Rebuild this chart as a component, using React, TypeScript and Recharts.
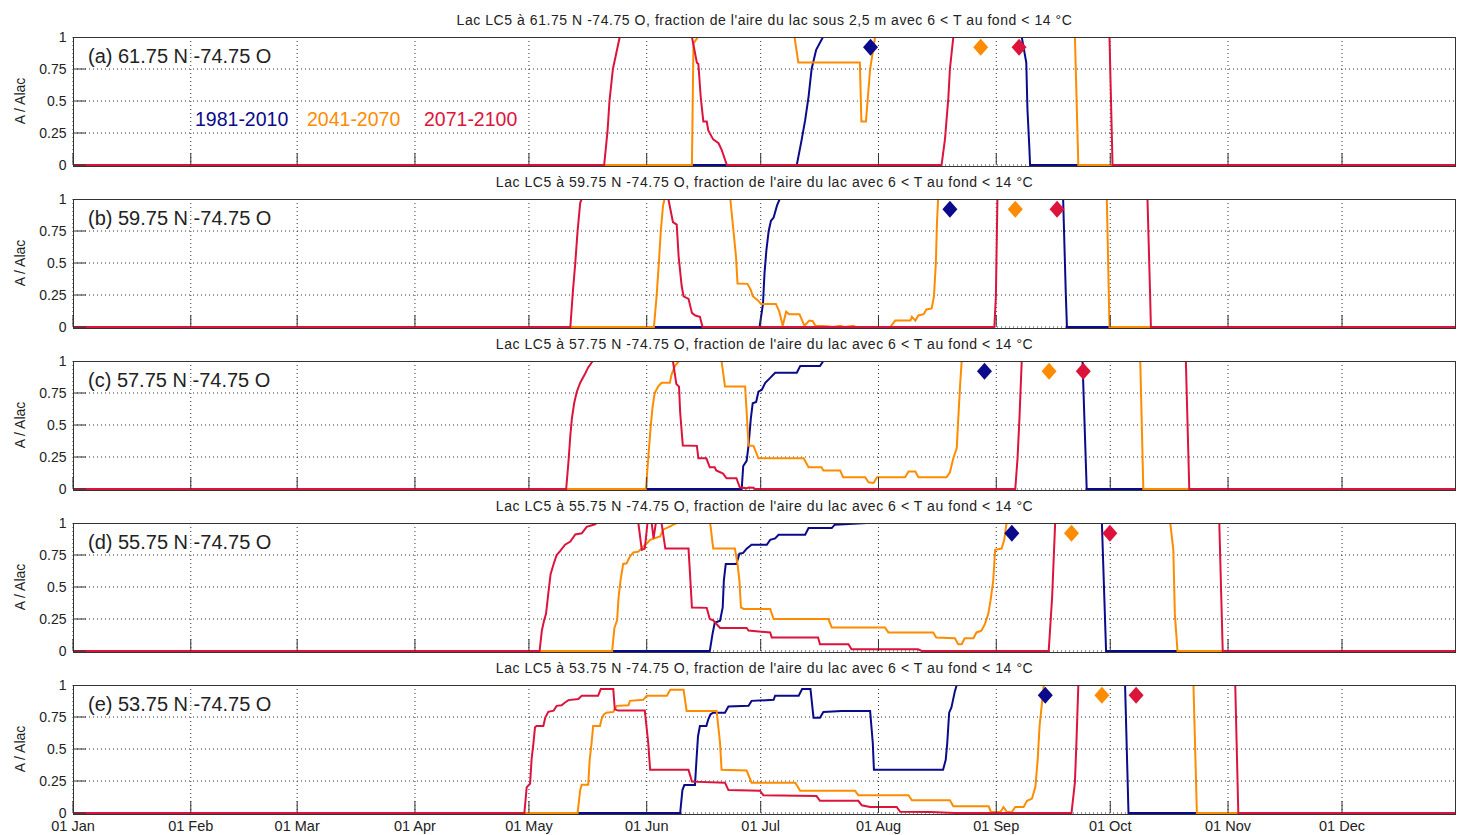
import React from 'react';
import { ComposedChart, Line, Scatter, XAxis, YAxis, CartesianGrid } from 'recharts';

type P = [number, number];

// ---------- axes ----------
const monthTicks = [1, 32, 60, 91, 121, 152, 182, 213, 244, 274, 305, 335];
const monthLabels = ['01 Jan', '01 Feb', '01 Mar', '01 Apr', '01 May', '01 Jun', '01 Jul', '01 Aug', '01 Sep', '01 Oct', '01 Nov', '01 Dec'];
const valueTicks = [0, 0.25, 0.5, 0.75, 1];

// ---------- series ----------
const seriesNames = ['1981-2010', '2041-2070', '2071-2100'];
const seriesColors = ['#0a0a8a', '#ff8c00', '#dc143c'];
const markerLevel = 0.92;

const panelLabels = [
  '(a) 61.75 N -74.75 O',
  '(b) 59.75 N -74.75 O',
  '(c) 57.75 N -74.75 O',
  '(d) 55.75 N -74.75 O',
  '(e) 53.75 N -74.75 O',
];
const panelTitles = [
  "Lac LC5 à 61.75 N -74.75 O, fraction de l'aire du lac sous 2,5 m avec 6 < T au fond < 14 °C",
  "Lac LC5 à 59.75 N -74.75 O, fraction de l'aire du lac avec 6 < T au fond < 14 °C",
  "Lac LC5 à 57.75 N -74.75 O, fraction de l'aire du lac avec 6 < T au fond < 14 °C",
  "Lac LC5 à 55.75 N -74.75 O, fraction de l'aire du lac avec 6 < T au fond < 14 °C",
  "Lac LC5 à 53.75 N -74.75 O, fraction de l'aire du lac avec 6 < T au fond < 14 °C",
];

// Panel (a)
const blueA: P[] = [[1,0],[191.5,0],[192.8,0.2],[193.7,0.35],[194.6,0.535],[195.4,0.75],[196.6,0.9],[198.4,1],[250.7,1],[251.9,0.8],[252.2,0.44],[252.7,0.14],[252.9,0],[365,0]];
const orangeA: P[] = [[1,0],[163.9,0],[164.3,0.95],[165.5,1],[190.9,1],[191.9,0.8],[208.1,0.8],[208.5,0.34],[209.7,0.34],[210.8,0.75],[212.1,1],[264.7,1],[265.6,0],[365,0]];
const redA: P[] = [[1,0],[140.8,0],[141.7,0.27],[142.2,0.5],[143.1,0.75],[144.9,1],[163.9,1],[165.2,0.8],[165.6,0.79],[166.2,0.535],[166.9,0.34],[167.8,0.34],[168.2,0.27],[169.5,0.2],[170.9,0.17],[171.7,0.12],[173.1,0],[229.6,0],[230.5,0.2],[231.4,0.53],[231.8,0.75],[232.7,1],[273.8,1],[274.6,0],[365,0]];
const markersA = [210.9, 239.9, 250.0];

// Panel (b)
const blueB: P[] = [[1,0],[181.7,0],[182.6,0.18],[183.0,0.42],[183.5,0.6],[184.1,0.75],[184.7,0.83],[185.4,0.855],[186.3,0.95],[187.0,1],[261.6,1],[262.3,0.26],[262.6,0],[365,0]];
const orangeB: P[] = [[1,0],[153.9,0],[154.6,0.24],[155.2,0.5],[155.7,0.75],[156.3,0.95],[156.7,1],[174.0,1],[174.6,0.82],[175.5,0.55],[175.9,0.34],[178.5,0.337],[179.4,0.29],[179.9,0.24],[181.2,0.21],[182.1,0.18],[186.0,0.18],[186.9,0.12],[187.8,0.01],[188.7,0.12],[189.5,0.1],[192.2,0.1],[193.5,0.01],[194.8,0.05],[195.7,0.045],[196.4,0.01],[199.5,0.005],[201,0],[203,0.01],[204,0],[206.5,0.01],[207,0],[216.1,0],[217.4,0.05],[221.4,0.05],[221.8,0.08],[222.7,0.05],[223.5,0.09],[224.9,0.1],[225.6,0.137],[227.0,0.145],[227.6,0.24],[228.1,0.5],[228.4,0.82],[228.7,1],[273.1,1],[273.8,0],[365,0]];
const redB: P[] = [[1,0],[131.9,0],[132.6,0.29],[133.2,0.5],[133.8,0.75],[134.5,0.97],[134.9,1],[157.7,1],[158.9,0.82],[159.9,0.8],[160.4,0.55],[161.2,0.32],[161.7,0.24],[163.0,0.22],[163.9,0.11],[164.8,0.09],[166.0,0.08],[166.7,0],[243.5,0],[243.9,0.24],[244.3,1],[283.8,1],[284.5,0.24],[284.7,0],[365,0]];
const markersB = [231.8, 249.0, 260.0];

// Panel (c)
const blueC: P[] = [[1,0],[177.0,0],[177.4,0.18],[178.3,0.22],[178.8,0.34],[179.4,0.55],[179.9,0.67],[180.8,0.68],[181.4,0.76],[182.3,0.775],[183.2,0.83],[184.5,0.868],[185.8,0.908],[191.5,0.908],[192.4,0.96],[197.6,0.96],[198.5,1],[266.7,1],[267.8,0],[365,0]];
const orangeC: P[] = [[1,0],[151.8,0],[152.4,0.24],[153.0,0.47],[153.5,0.63],[154.1,0.75],[155.0,0.8],[155.9,0.83],[158.1,0.83],[158.5,0.89],[159.4,0.96],[160.5,1],[171.7,1],[172.6,0.8],[177.9,0.8],[178.3,0.6],[178.8,0.34],[180.1,0.337],[181.4,0.24],[193.3,0.24],[194.6,0.17],[198.0,0.17],[198.5,0.145],[202.9,0.145],[203.7,0.092],[209.5,0.092],[210.4,0.053],[211.7,0.047],[212.6,0.092],[220.0,0.092],[220.9,0.137],[222.7,0.137],[223.5,0.092],[230.9,0.092],[231.8,0.13],[232.7,0.24],[233.6,0.32],[234.0,0.55],[234.5,0.82],[234.9,1],[281.9,1],[282.7,0],[365,0]];
const redC: P[] = [[1,0],[130.8,0],[131.4,0.21],[131.9,0.42],[132.3,0.55],[132.9,0.67],[133.6,0.76],[134.5,0.83],[135.6,0.89],[136.6,0.95],[137.8,1],[158.9,1],[159.8,0.82],[160.5,0.8],[160.8,0.6],[161.5,0.34],[165.2,0.337],[165.6,0.24],[167.7,0.24],[168.6,0.17],[169.9,0.17],[170.3,0.145],[172.1,0.12],[173.0,0.084],[175.6,0.084],[176.5,0.013],[178.3,0.005],[178.8,0.012],[180.1,0.01],[180.5,0],[249.0,0],[249.6,0.24],[250.1,0.55],[250.7,1],[293.9,1],[294.8,0],[365,0]];
const markersC = [240.9, 257.9, 266.9];

// Panel (d)
const blueD: P[] = [[1,0],[168.6,0],[169.3,0.13],[169.9,0.22],[171.3,0.237],[172.0,0.34],[172.3,0.55],[172.8,0.68],[175.6,0.68],[176.4,0.76],[177.4,0.766],[178.3,0.8],[179.6,0.83],[183.6,0.83],[184.5,0.868],[185.8,0.88],[186.7,0.908],[193.7,0.908],[194.6,0.96],[200.7,0.96],[201.5,0.987],[206.4,0.995],[210,1],[271.8,1],[272.9,0],[365,0]];
const orangeD: P[] = [[1,0],[142.9,0],[143.5,0.18],[144.2,0.24],[144.6,0.42],[145.1,0.55],[145.8,0.68],[146.7,0.685],[147.6,0.74],[148.5,0.77],[149.8,0.776],[151.1,0.816],[152.0,0.84],[152.9,0.868],[155.5,0.895],[156.4,0.95],[158.2,0.974],[159.0,0.987],[159.9,1],[168.7,1],[169.5,0.8],[175.2,0.8],[175.9,0.68],[176.4,0.55],[176.8,0.34],[177.5,0.329],[184.5,0.329],[185.4,0.25],[199.8,0.25],[200.7,0.184],[214.7,0.184],[215.6,0.145],[227.4,0.145],[228.2,0.105],[233.1,0.1],[234.0,0.053],[234.9,0.053],[235.7,0.1],[238.0,0.1],[238.8,0.145],[240.1,0.158],[241.0,0.21],[241.9,0.29],[242.5,0.395],[243.2,0.55],[243.7,0.79],[245.4,0.8],[246.1,0.868],[246.7,1],[289.8,1],[290.6,0.79],[291.0,0.29],[291.7,0],[365,0]];
const redD: P[] = [[1,0],[123.8,0],[124.4,0.16],[125.0,0.24],[125.5,0.29],[126.1,0.45],[126.7,0.6],[127.5,0.68],[128.3,0.75],[129.2,0.78],[130.5,0.83],[131.9,0.855],[133.2,0.91],[134.9,0.92],[136.2,0.97],[138.4,0.99],[138.8,1],[149.8,1],[150.7,0.79],[151.5,0.8],[152.2,1],[153.3,1],[153.8,0.88],[154.4,1],[155.9,1],[156.9,0.8],[163.0,0.8],[163.5,0.55],[163.9,0.34],[167.8,0.337],[168.6,0.25],[169.5,0.24],[171.3,0.18],[178.3,0.18],[178.8,0.16],[184.5,0.145],[184.9,0.105],[197.1,0.105],[197.6,0.053],[205.1,0.053],[205.9,0.013],[223.4,0.013],[224.4,0],[257.8,0],[258.7,0.42],[259.5,1],[302.7,1],[303.6,0],[365,0]];
const markersD = [248.1, 263.8, 273.9];

// Panel (e)
const blueE: P[] = [[1,0],[160.8,0],[161.4,0.179],[161.9,0.218],[164.7,0.218],[165.1,0.416],[165.5,0.6],[166.0,0.68],[167.7,0.68],[168.2,0.732],[168.8,0.771],[169.5,0.784],[172.6,0.784],[173.5,0.832],[178.8,0.837],[179.6,0.876],[185.4,0.884],[185.8,0.916],[192.0,0.916],[192.9,0.968],[195.1,0.968],[195.9,0.745],[197.6,0.745],[198.5,0.79],[203.3,0.797],[210.8,0.797],[211.5,0.547],[211.8,0.337],[230.0,0.337],[230.7,0.416],[231.1,0.547],[231.6,0.784],[232.2,0.824],[233.1,0.95],[233.6,1],[277.9,1],[278.8,0],[365,0]];
const orangeE: P[] = [[1,0],[133.8,0],[134.5,0.18],[134.9,0.22],[136.6,0.22],[137.0,0.42],[137.5,0.55],[137.9,0.68],[139.7,0.68],[140.1,0.732],[140.7,0.77],[141.4,0.784],[143.2,0.79],[144.1,0.837],[147.2,0.842],[147.6,0.876],[151.1,0.884],[152.0,0.916],[157.3,0.916],[158.2,0.963],[161.7,0.963],[162.5,0.797],[170.4,0.797],[171.3,0.547],[171.7,0.337],[178.3,0.332],[179.6,0.237],[191.1,0.237],[192.4,0.174],[206.8,0.174],[207.7,0.139],[220.9,0.139],[221.8,0.1],[231.8,0.1],[232.7,0.053],[242.0,0.053],[242.6,0.008],[245.1,0.008],[245.9,0.047],[246.8,0.008],[248.1,0.008],[249.0,0.047],[251.2,0.047],[252.1,0.095],[253.4,0.113],[254.3,0.205],[254.9,0.416],[255.4,0.68],[256.0,0.85],[256.5,1],[295.9,1],[296.8,0],[365,0]];
const redE: P[] = [[1,0],[119.8,0],[120.4,0.2],[121.3,0.23],[121.7,0.42],[122.2,0.55],[122.6,0.67],[123.0,0.68],[124.8,0.68],[125.3,0.745],[126.1,0.79],[127.5,0.8],[128.3,0.837],[129.6,0.842],[130.5,0.863],[131.4,0.882],[134.0,0.89],[134.9,0.916],[139.2,0.916],[139.9,0.968],[143.2,0.968],[143.6,0.81],[144.5,0.8],[151.5,0.8],[152.4,0.547],[152.9,0.337],[163.0,0.337],[163.9,0.245],[172.6,0.237],[173.5,0.179],[181.8,0.174],[182.7,0.139],[196.7,0.132],[197.6,0.095],[207.7,0.095],[208.6,0.06],[210.8,0.047],[217.8,0.047],[218.7,0.01],[226.6,0.008],[233,0],[263.8,0],[264.7,0.24],[265.1,0.55],[265.6,1],[306.9,1],[307.7,0],[365,0]];
const markersE = [256.9, 271.8, 280.8];

const panelSeries: P[][][] = [
  [blueA, orangeA, redA],
  [blueB, orangeB, redB],
  [blueC, orangeC, redC],
  [blueD, orangeD, redD],
  [blueE, orangeE, redE],
];
const panelMarkers = [markersA, markersB, markersC, markersD, markersE];

// ---------- layout ----------
const PLOT_TOPS = [37, 199, 361, 523, 685];
const PLOT_H = 128;
const PLOT_LEFT = 73;
const PLOT_W = 1383;
const FONT = 'Arial, "Liberation Sans", Helvetica, sans-serif';
const TEXT = '#222';
const FRAME = '#333';

const emptyTick = () => <g />;

const diamond = (color: string) => (props: any) => {
  const { cx, cy } = props;
  if (cx == null || cy == null) return <g />;
  return (
    <polygon
      points={`${cx},${cy - 8.5} ${cx + 7.5},${cy} ${cx},${cy + 8.5} ${cx - 7.5},${cy}`}
      fill={color}
    />
  );
};

function Panel({ idx }: { idx: number }) {
  const showX = idx === 4;
  const plotTop = PLOT_TOPS[idx];
  const mt = 10;
  const topAxisH = 1;
  const bottomAxisH = showX ? 34 : 1;
  const mb = showX ? 0 : 9;
  const height = mt + topAxisH + PLOT_H + bottomAxisH + mb;
  const series = panelSeries[idx];
  const markers = panelMarkers[idx];
  return (
    <div style={{ position: 'absolute', left: 0, top: plotTop - mt - topAxisH, width: 1458, height }}>
      <ComposedChart width={1458} height={height} margin={{ top: mt, right: 1, bottom: mb, left: 13 }}>
        <CartesianGrid
          xAxisId="b"
          yAxisId="l"
          stroke="#333"
          strokeDasharray="1 3"
          verticalValues={monthTicks}
          horizontalValues={valueTicks}
        />
        <XAxis
          xAxisId="b"
          type="number"
          dataKey="x"
          domain={[1, 365]}
          ticks={monthTicks}
          interval={0}
          orientation="bottom"
          height={bottomAxisH}
          axisLine={false}
          tickSize={-12}
          tickMargin={20}
          tickLine={{ stroke: FRAME }}
          tick={showX ? { fill: TEXT, fontSize: 14.5, fontFamily: FONT } : emptyTick}
          tickFormatter={(v: number) => monthLabels[monthTicks.indexOf(v)] ?? ''}
        />
        <XAxis
          xAxisId="t"
          type="number"
          domain={[1, 365]}
          ticks={monthTicks}
          interval={0}
          orientation="top"
          height={topAxisH}
          axisLine={false}
          tickSize={-12}
          tickLine={{ stroke: FRAME }}
          tick={emptyTick}
        />
        <YAxis
          yAxisId="l"
          type="number"
          dataKey="y"
          domain={[0, 1]}
          ticks={valueTicks}
          interval={0}
          width={60}
          axisLine={false}
          tickSize={-13}
          tickMargin={19.5}
          tickLine={{ stroke: FRAME }}
          tick={{ fill: TEXT, fontSize: 14, fontFamily: FONT }}
        />
        <YAxis
          yAxisId="r"
          orientation="right"
          type="number"
          domain={[0, 1]}
          ticks={valueTicks}
          interval={0}
          width={1}
          axisLine={false}
          tickSize={-13}
          tickLine={{ stroke: FRAME }}
          tick={emptyTick}
        />
        {series.map((s, i) => (
          <Line
            key={seriesNames[i]}
            xAxisId="b"
            yAxisId="l"
            data={s.map(([x, y]) => ({ x, y }))}
            dataKey="y"
            type="linear"
            stroke={seriesColors[i]}
            strokeWidth={2}
            dot={false}
            activeDot={false}
            isAnimationActive={false}
          />
        ))}
        {markers.map((m, i) => (
          <Scatter
            key={'m' + i}
            xAxisId="b"
            yAxisId="l"
            data={[{ x: m, y: markerLevel }]}
            dataKey="y"
            fill={seriesColors[i]}
            shape={diamond(seriesColors[i])}
            isAnimationActive={false}
          />
        ))}
      </ComposedChart>
    </div>
  );
}

function Frame({ idx }: { idx: number }) {
  const t = PLOT_TOPS[idx];
  const b = t + PLOT_H;
  const base: React.CSSProperties = { position: 'absolute', pointerEvents: 'none' };
  return (
    <>
      <div style={{ ...base, left: PLOT_LEFT - 1, top: t - 3, width: PLOT_W + 2, height: 3, background: '#fff' }} />
      <div style={{ ...base, left: PLOT_LEFT, top: t, width: PLOT_W, height: 1, background: FRAME }} />
      <div style={{ ...base, left: PLOT_LEFT, top: b + 1, width: PLOT_W, height: 1, background: FRAME }} />
      <div style={{ ...base, left: PLOT_LEFT, top: t, width: 1, height: PLOT_H + 2, background: FRAME }} />
      <div style={{ ...base, left: PLOT_LEFT + PLOT_W - 1, top: t, width: 1, height: PLOT_H + 2, background: FRAME }} />
      <div
        style={{
          ...base,
          left: PLOT_LEFT,
          top: t - 25,
          width: PLOT_W,
          height: 16,
          lineHeight: '16px',
          textAlign: 'center',
          fontSize: 14,
          letterSpacing: '0.55px',
          color: TEXT,
          whiteSpace: 'nowrap',
        }}
      >
        {panelTitles[idx]}
      </div>
      <div
        style={{
          ...base,
          left: PLOT_LEFT + 15,
          top: t + 8,
          height: 23,
          lineHeight: '23px',
          fontSize: 20,
          color: TEXT,
          whiteSpace: 'nowrap',
        }}
      >
        {panelLabels[idx]}
      </div>
      <div
        style={{
          ...base,
          left: 20 - 40,
          top: t + PLOT_H / 2 - 8,
          width: 80,
          height: 16,
          lineHeight: '16px',
          textAlign: 'center',
          fontSize: 14,
          color: TEXT,
          transform: 'rotate(-90deg)',
          whiteSpace: 'nowrap',
        }}
      >
        A / Alac
      </div>
    </>
  );
}

const legendLefts = [195, 307, 424];

export default function App() {
  return (
    <div
      style={{
        position: 'absolute',
        left: 0,
        top: 0,
        width: 1458,
        height: 835,
        background: '#fff',
        fontFamily: FONT,
        overflow: 'hidden',
      }}
    >
      {PLOT_TOPS.map((_, i) => (
        <Panel key={'p' + i} idx={i} />
      ))}
      {PLOT_TOPS.map((_, i) => (
        <Frame key={'f' + i} idx={i} />
      ))}
      {seriesNames.map((n, i) => (
        <div
          key={n}
          style={{
            position: 'absolute',
            left: legendLefts[i],
            top: 108,
            height: 22,
            lineHeight: '22px',
            fontSize: 19.5,
            color: seriesColors[i],
            whiteSpace: 'nowrap',
          }}
        >
          {n}
        </div>
      ))}
    </div>
  );
}
